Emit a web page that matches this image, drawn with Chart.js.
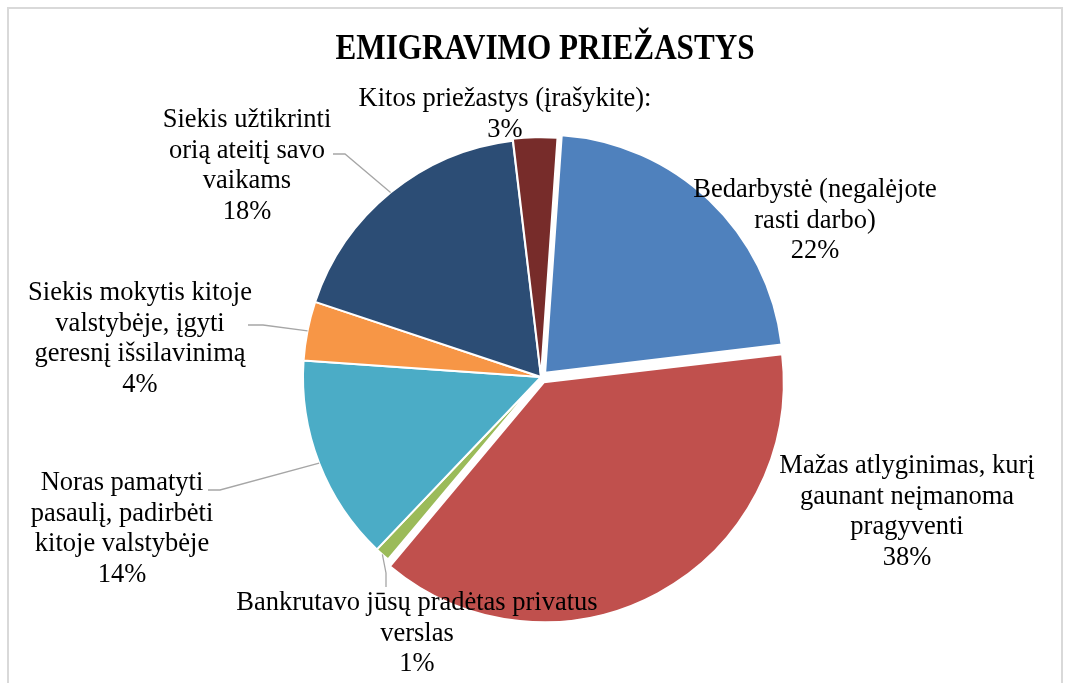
<!DOCTYPE html>
<html>
<head>
<meta charset="utf-8">
<script src="https://cdn.jsdelivr.net/npm/chart.js@4/dist/chart.umd.min.js"></script>
<style>
  html, body { margin: 0; padding: 0; background: #fff; }
</style>
</head>
<body>
<canvas id="chart" width="1069" height="683"></canvas>
<script>
const title = 'EMIGRAVIMO PRIEŽASTYS';

// slices, clockwise from the top
const categories = [
    'Bedarbystė (negalėjote rasti darbo)',
    'Mažas atlyginimas, kurį gaunant neįmanoma pragyventi',
    'Bankrutavo jūsų pradėtas privatus verslas',
    'Noras pamatyti pasaulį, padirbėti kitoje valstybėje',
    'Siekis mokytis kitoje valstybėje, įgyti geresnį išsilavinimą',
    'Siekis užtikrinti orią ateitį savo vaikams',
    'Kitos priežastys (įrašykite):'
];
const shares = [22, 38, 1, 14, 4, 18, 3];

// how the category text wraps in the labels
const labelLines = [
    ['Bedarbystė (negalėjote', 'rasti darbo)'],
    ['Mažas atlyginimas, kurį', 'gaunant neįmanoma', 'pragyventi'],
    ['Bankrutavo jūsų pradėtas privatus', 'verslas'],
    ['Noras pamatyti', 'pasaulį, padirbėti', 'kitoje valstybėje'],
    ['Siekis mokytis kitoje', 'valstybėje, įgyti', 'geresnį išsilavinimą'],
    ['Siekis užtikrinti', 'orią ateitį savo', 'vaikams'],
    ['Kitos priežastys (įrašykite):']
];

const colors = ['#4F81BD', '#C0504D', '#9BBB59', '#4BACC6', '#F79646', '#2C4D75', '#772C2A'];
const explode = [24, 24, 0, 0, 0, 0, 4];

// label block: centre x, first baseline, leader points (slice end is added from the arc)
const labelLayout = [
    { x: 815, y: 197, leader: null },
    { x: 907, y: 473, leader: null },
    { x: 417, y: 610, leader: [[386, 573], [386, 587]] },
    { x: 122, y: 490, leader: [[220, 490], [208, 490]] },
    { x: 140, y: 300, leader: [[263, 325], [248, 325]] },
    { x: 247, y: 127, leader: [[345, 154], [333, 154]] },
    { x: 505, y: 106, leader: null }
];
const lineHeight = 30.6;

const total = shares.reduce((a, b) => a + b, 0);

const labelPlugin = {
    id: 'pieLabels',
    beforeDraw(chart) {
        const ctx = chart.ctx;
        ctx.save();
        ctx.strokeStyle = '#D9D9D9';
        ctx.lineWidth = 2;
        ctx.strokeRect(8, 8, 1054, 700);
        ctx.restore();
    },
    afterDatasetsDraw(chart) {
        const ctx = chart.ctx;
        const arcs = chart.getDatasetMeta(0).data;

        ctx.save();
        // title, a bit narrow like the original
        ctx.fillStyle = '#000';
        ctx.font = 'bold 36px "Liberation Serif", "Times New Roman", serif';
        ctx.textAlign = 'center';
        ctx.textBaseline = 'alphabetic';
        ctx.save();
        ctx.translate(545, 59);
        ctx.scale(0.865, 1);
        ctx.fillText(title, 0, 0);
        ctx.restore();

        // leader lines
        ctx.strokeStyle = '#A6A6A6';
        ctx.lineWidth = 1.3;
        arcs.forEach((arc, i) => {
            const lay = labelLayout[i];
            if (!lay.leader) return;
            const p = arc.getProps(['x', 'y', 'startAngle', 'endAngle', 'outerRadius', 'circumference'], true);
            const mid = (p.startAngle + p.endAngle) / 2;
            const off = (arc.options.offset || 0) / 4;
            const fix = 1 - Math.sin(Math.min(Math.PI, p.circumference || 0));
            const r = p.outerRadius + off + off * fix;
            ctx.beginPath();
            ctx.moveTo(p.x + Math.cos(mid) * r, p.y + Math.sin(mid) * r);
            lay.leader.forEach(pt => ctx.lineTo(pt[0], pt[1]));
            ctx.stroke();
        });

        // labels
        ctx.fillStyle = '#000';
        ctx.font = '26.5px "Liberation Serif", "Times New Roman", serif';
        labelLines.forEach((lines, i) => {
            const lay = labelLayout[i];
            const pct = Math.round(shares[i] / total * 100) + '%';
            lines.concat([pct]).forEach((t, k) => {
                ctx.fillText(t, lay.x, lay.y + k * lineHeight);
            });
        });
        ctx.restore();
    }
};

new Chart(document.getElementById('chart').getContext('2d'), {
    type: 'pie',
    data: {
        labels: categories,
        datasets: [{
            data: shares,
            backgroundColor: colors,
            borderColor: '#FFFFFF',
            borderWidth: 2,
            offset: explode
        }]
    },
    options: {
        responsive: false,
        animation: false,
        rotation: 4,
        radius: 238,
        layout: { padding: { left: 13, right: 0, top: 71, bottom: 0 } },
        plugins: {
            legend: { display: false },
            title: { display: false },
            tooltip: { enabled: false }
        }
    },
    plugins: [labelPlugin]
});
</script>
</body>
</html>
